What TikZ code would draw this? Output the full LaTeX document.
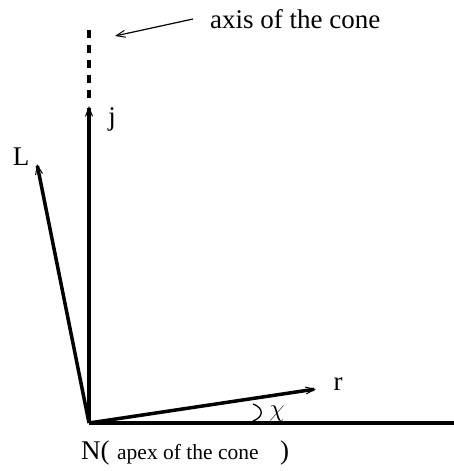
\documentclass[tikz,border=0pt]{standalone}
\usepackage{fontspec}
\setmainfont{Liberation Serif}
\usetikzlibrary{arrows.meta}
\tikzset{
  vec/.style={line width=3.5pt,-{Straight Barb[length=9pt,width=7pt,line width=1pt]}},
  thinarrow/.style={line width=1.2pt,-{Straight Barb[length=9pt,width=7pt,line width=1pt]}},
  lbl/.style={inner sep=0pt,font=\fontsize{27}{31}\selectfont},
  small/.style={inner sep=0pt,font=\fontsize{21.5}{26}\selectfont}
}
\begin{document}
\begin{tikzpicture}[x=1pt,y=-1pt]
\useasboundingbox (0,0) rectangle (454,471);
\coordinate (N) at (89,423);
\coordinate (E) at (454,423);
\coordinate (J) at (89,106);
\coordinate (Rt) at (316,389);
\coordinate (Lt) at (37,164);
\coordinate (Ab) at (89,30);
\coordinate (At) at (89,100);
\coordinate (Pa) at (193,19);
\coordinate (Pb) at (115,36);
% base line
\draw[line width=3.5pt] (N) -- (E);
% axis
\draw[vec] (N) -- (J);
\draw[line width=3.4pt,dash pattern=on 8pt off 7pt] (Ab) -- (At);
% r and L
\draw[vec] (N) -- (Rt);
\draw[vec] (N) -- (Lt);
% pointer to axis
\draw[thinarrow] (Pa) -- (Pb);
% angle mark
\coordinate (Ca) at (253,404);
\draw[line width=1.3pt] (Ca) .. controls (264,408) and (264,417) .. (253,421);
% labels
\node[lbl,anchor=base west] (axl) at (210,28) {axis of the cone};
\node[lbl] (jl) at (112,119) {j};
\node[lbl] (Ll) at (21,157) {L};
\node[lbl] (rl) at (338,384) {r};
\node[lbl,anchor=base] (chil) at (277,416) {$\chi$};
\node[lbl,anchor=base west] (Nl) at (81,459) {N(};
\node[small,anchor=base west] (apl) at (117,459) {apex of the cone};
\node[lbl,anchor=base west] (cl) at (280,459) {)};
\end{tikzpicture}
\end{document}
